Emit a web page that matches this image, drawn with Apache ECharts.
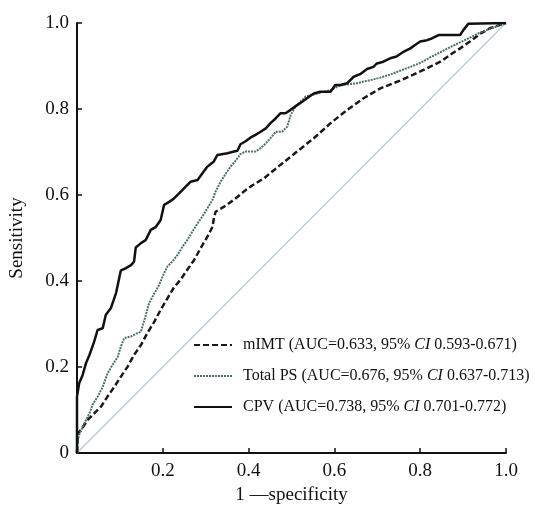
<!DOCTYPE html>
<html>
<head>
    <meta charset="utf-8">
    <title>ROC</title>
    <script src="https://cdn.jsdelivr.net/npm/echarts@6/dist/echarts.min.js"></script>
</head>
<body style="margin:0;background:#fff;">
    <div id="main" style="width:535px;height:510px;"></div>
    <script type="text/javascript">
        // 讀圖估計的 ROC 座標 [1-specificity, sensitivity]
        var xTicks = [0, 0.2, 0.4, 0.6, 0.8, 1.0];
        var names = [
            'mIMT (AUC=0.633, 95% CI 0.593-0.671)',
            'Total PS (AUC=0.676, 95% CI 0.637-0.713)',
            'CPV (AUC=0.738, 95% CI 0.701-0.772)'
        ];
        var mimt = [[0,0],[0.002,0.046],[0.009,0.053],[0.025,0.077],[0.040,0.092],[0.056,0.108],[0.071,0.131],[0.087,0.154],[0.102,0.177],[0.118,0.201],[0.133,0.228],[0.149,0.251],[0.164,0.279],[0.180,0.305],[0.195,0.333],[0.211,0.360],[0.226,0.385],[0.242,0.404],[0.257,0.426],[0.273,0.449],[0.288,0.476],[0.304,0.503],[0.316,0.526],[0.319,0.546],[0.323,0.561],[0.343,0.573],[0.366,0.589],[0.389,0.608],[0.405,0.620],[0.436,0.639],[0.474,0.670],[0.513,0.701],[0.552,0.732],[0.591,0.767],[0.630,0.798],[0.668,0.825],[0.707,0.848],[0.753,0.866],[0.784,0.880],[0.816,0.895],[0.847,0.910],[0.870,0.926],[0.893,0.941],[0.916,0.957],[0.940,0.975],[0.963,0.988],[1,1]];
        var totalPS = [[0,0],[0.002,0.03],[0.005,0.042],[0.017,0.069],[0.029,0.092],[0.036,0.112],[0.048,0.131],[0.060,0.154],[0.071,0.185],[0.083,0.205],[0.095,0.224],[0.102,0.247],[0.110,0.267],[0.126,0.271],[0.141,0.279],[0.149,0.282],[0.157,0.309],[0.168,0.348],[0.180,0.371],[0.191,0.390],[0.203,0.418],[0.211,0.434],[0.222,0.445],[0.234,0.460],[0.246,0.480],[0.257,0.495],[0.269,0.515],[0.281,0.534],[0.292,0.550],[0.304,0.569],[0.316,0.589],[0.323,0.608],[0.335,0.631],[0.347,0.650],[0.358,0.666],[0.370,0.680],[0.381,0.695],[0.393,0.701],[0.416,0.701],[0.428,0.709],[0.440,0.720],[0.451,0.732],[0.463,0.747],[0.478,0.747],[0.490,0.759],[0.498,0.786],[0.509,0.805],[0.521,0.817],[0.533,0.829],[0.548,0.833],[0.560,0.836],[0.575,0.840],[0.591,0.844],[0.607,0.852],[0.622,0.856],[0.637,0.858],[0.653,0.860],[0.668,0.864],[0.684,0.867],[0.707,0.873],[0.730,0.880],[0.753,0.889],[0.777,0.898],[0.800,0.907],[0.823,0.920],[0.847,0.932],[0.870,0.944],[0.893,0.955],[0.916,0.966],[0.940,0.978],[0.970,0.989],[1,1]];
        var cpv = [[0,0],[0,0.131],[0.005,0.162],[0.013,0.181],[0.021,0.209],[0.029,0.228],[0.040,0.259],[0.048,0.286],[0.060,0.290],[0.067,0.321],[0.079,0.337],[0.091,0.372],[0.102,0.424],[0.114,0.430],[0.126,0.437],[0.133,0.445],[0.137,0.478],[0.149,0.488],[0.160,0.495],[0.172,0.519],[0.184,0.526],[0.195,0.542],[0.203,0.577],[0.215,0.584],[0.226,0.592],[0.238,0.604],[0.250,0.616],[0.265,0.631],[0.281,0.635],[0.292,0.650],[0.304,0.666],[0.319,0.678],[0.327,0.693],[0.351,0.697],[0.366,0.701],[0.374,0.703],[0.381,0.718],[0.393,0.725],[0.405,0.734],[0.416,0.740],[0.428,0.747],[0.440,0.755],[0.451,0.767],[0.463,0.778],[0.474,0.790],[0.486,0.790],[0.498,0.798],[0.513,0.809],[0.525,0.817],[0.536,0.825],[0.552,0.836],[0.567,0.840],[0.591,0.840],[0.602,0.856],[0.614,0.856],[0.630,0.860],[0.645,0.875],[0.660,0.881],[0.676,0.893],[0.691,0.898],[0.699,0.906],[0.714,0.910],[0.730,0.918],[0.745,0.922],[0.761,0.933],[0.777,0.941],[0.788,0.949],[0.800,0.957],[0.816,0.960],[0.827,0.964],[0.843,0.972],[0.893,0.972],[0.901,0.984],[0.912,0.998],[1,1]];
        var diag = [[0,0],[1,1]];

        var serif = '"Liberation Serif", "Times New Roman", serif';
        var echart = echarts.init(document.getElementById('main'));
        var option = {
            animation: false,
            backgroundColor: '#fff',
            grid: {left: 76, right: 29, top: 23, bottom: 57},
            legend: {
                orient: 'vertical',
                left: 188, top: 332,
                itemWidth: 38, itemHeight: 16, itemGap: 15,
                data: names,
                itemStyle: {opacity: 0},
                formatter: function (n) { return n.replace('CI', '{i|CI}'); },
                textStyle: {
                    fontFamily: serif, fontSize: 16, color: '#111', padding: [0, 0, 0, 6],
                    rich: {i: {fontFamily: serif, fontSize: 16, fontStyle: 'italic', color: '#111'}}
                }
            },
            xAxis: {
                type: 'value', min: 0, max: 1, interval: 0.2,
                name: '1 —specificity', nameLocation: 'middle', nameGap: 30,
                nameTextStyle: {fontFamily: serif, fontSize: 19, color: '#111'},
                axisLine: {lineStyle: {color: '#111', width: 2}},
                axisTick: {inside: true, length: 5, lineStyle: {color: '#111', width: 1.5}},
                axisLabel: {
                    fontFamily: serif, fontSize: 19, color: '#111', margin: 9,
                    formatter: function (v) { return v === 0 ? '' : v.toFixed(1); }
                },
                splitLine: {show: false}
            },
            yAxis: {
                type: 'value', min: 0, max: 1, interval: 0.2,
                name: 'Sensitivity', nameLocation: 'middle', nameGap: 50, nameRotate: 90,
                nameTextStyle: {fontFamily: serif, fontSize: 19, color: '#111'},
                axisLine: {lineStyle: {color: '#111', width: 2}},
                axisTick: {inside: true, length: 5, lineStyle: {color: '#111', width: 1.5}},
                axisLabel: {
                    fontFamily: serif, fontSize: 19, color: '#111', margin: 8,
                    formatter: function (v) { return v === 0 ? '0' : v.toFixed(1); }
                },
                splitLine: {show: false}
            },
            series: [
                {name: 'ref', type: 'line', data: diag, symbol: 'none', silent: true,
                 lineStyle: {color: '#b4cad6', width: 1.2}, z: 1},
                {name: names[0], type: 'line', data: mimt, symbol: 'none',
                 lineStyle: {color: '#1a1a1a', width: 2.5, type: [6, 3]}, itemStyle: {color: '#1a1a1a'}},
                {name: names[1], type: 'line', data: totalPS, symbol: 'none',
                 lineStyle: {color: '#4a6f72', width: 2, type: [2, 1]}, itemStyle: {color: '#4a6f72'}},
                {name: names[2], type: 'line', data: cpv, symbol: 'none',
                 lineStyle: {color: '#111', width: 2.5}, itemStyle: {color: '#111'}}
            ]
        };
        echart.setOption(option);
    </script>
</body>
</html>
